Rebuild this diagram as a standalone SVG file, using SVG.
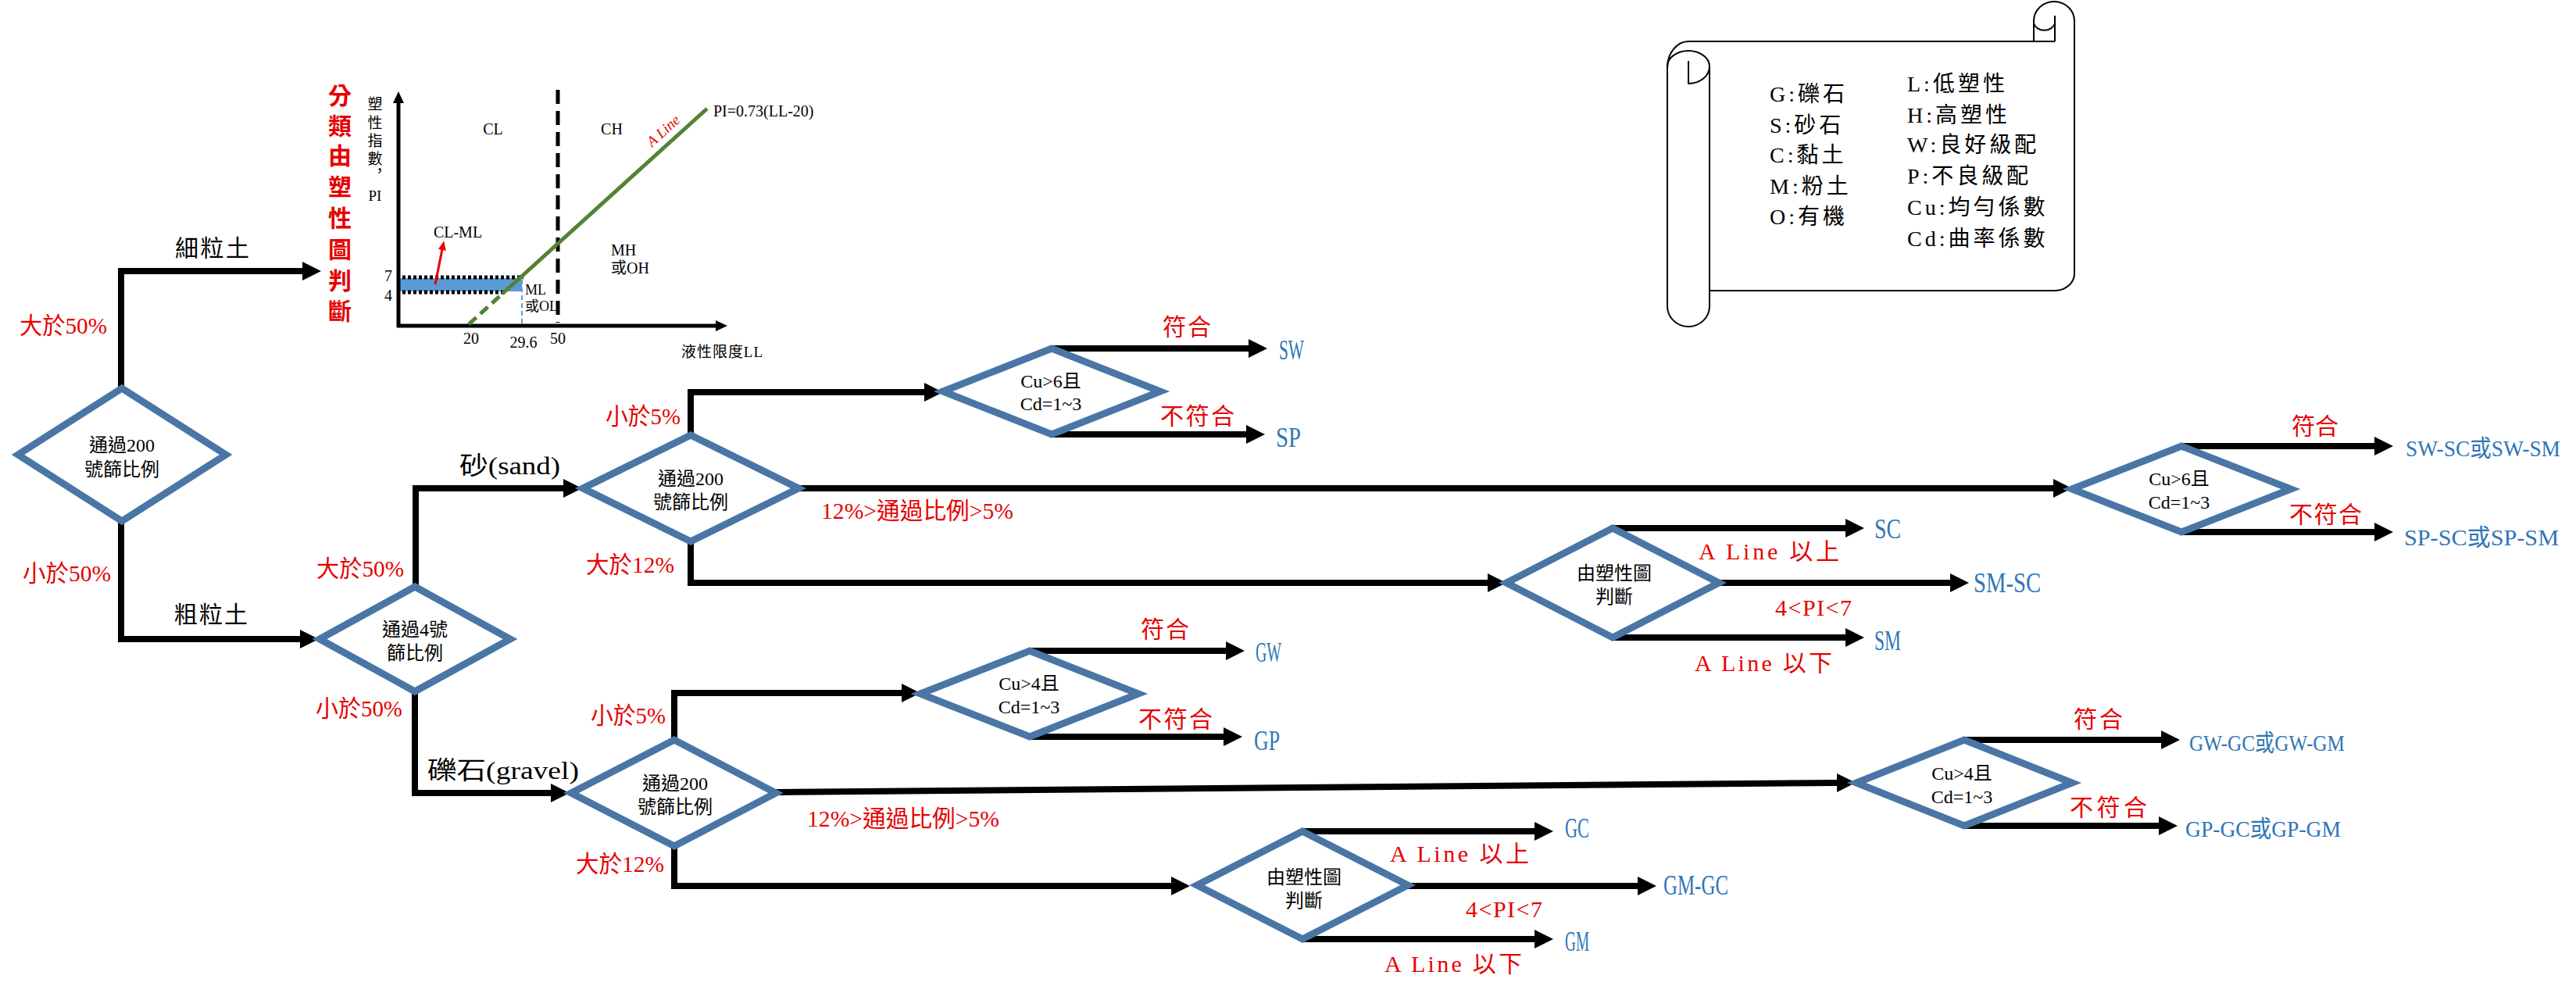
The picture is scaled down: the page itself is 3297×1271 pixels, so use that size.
<svg xmlns="http://www.w3.org/2000/svg" width="3297" height="1271" viewBox="0 0 3297 1271">
<style>
text { font-family: "Liberation Serif", "Noto Sans CJK TC", serif; }
.c { fill: none; stroke: #000; stroke-width: 8; stroke-linejoin: miter; marker-end: url(#ah); }
.d { fill: #fff; stroke: #4A76A6; stroke-width: 9; stroke-linejoin: miter; }
.dt { font-size: 24px; text-anchor: middle; fill: #000; }
.r { font-size: 30px; fill: #E60000; }
.b { font-size: 36px; fill: #2E75B6; }
.bl { font-size: 30px; fill: #2E75B6; }
.k { font-size: 30px; fill: #000; }
.ch { font-size: 20px; fill: #000; }
.sc { fill: none; stroke: #000; stroke-width: 2; }
.lg { font-size: 28px; fill: #000; letter-spacing: 4px; }
</style>
<defs>
<marker id="ah" viewBox="0 0 24 24" refX="2" refY="12" markerWidth="24" markerHeight="24" markerUnits="userSpaceOnUse" orient="auto">
<path d="M0,0 L24,12 L0,24 Z" fill="#000"/>
</marker>
<marker id="axa" viewBox="0 0 15 14" refX="1" refY="7" markerWidth="15" markerHeight="14" markerUnits="userSpaceOnUse" orient="auto">
<path d="M0,0 L15,7 L0,14 Z" fill="#000"/>
</marker>
<marker id="ra" viewBox="0 0 12 10" refX="1" refY="5" markerWidth="12" markerHeight="10" markerUnits="userSpaceOnUse" orient="auto">
<path d="M0,0 L12,5 L0,10 Z" fill="#E60000"/>
</marker>
</defs>
<rect width="3297" height="1271" fill="#fff"/>

<g id="connectors">
<path class="c" d="M155,497 V347 H389"/>
<path class="c" d="M155,668 V818 H386"/>
<path class="c" d="M532,751 V625 H723"/>
<path class="c" d="M531,885 V1015 H707"/>
<path class="c" d="M884,557 V502 H1185"/>
<path class="c" d="M1022,625 H2630"/>
<path class="c" d="M884,693 V746 H1906"/>
<path class="c" d="M1346,446 H1600"/>
<path class="c" d="M1346,556 H1597"/>
<path class="c" d="M2064,676 H2364"/>
<path class="c" d="M2200,746 H2498"/>
<path class="c" d="M2064,816 H2364"/>
<path class="c" d="M2792,571 H3041"/>
<path class="c" d="M2792,681 H3041"/>
<path class="c" d="M863,947 V887 H1156"/>
<path class="c" d="M993,1014 L2353,1002"/>
<path class="c" d="M863,1083 V1134 H1501"/>
<path class="c" d="M1318,833 H1571"/>
<path class="c" d="M1318,943 H1568"/>
<path class="c" d="M1667,1064 H1966"/>
<path class="c" d="M1802,1134 H2098"/>
<path class="c" d="M1667,1202 H1966"/>
<path class="c" d="M2514,947 H2768"/>
<path class="c" d="M2514,1057 H2765"/>

<text class="k" x="224" y="328" textLength="95">細粒土</text>
<text class="k" x="223" y="797" textLength="94">粗粒土</text>
<text class="k" x="588" y="607" textLength="129" lengthAdjust="spacingAndGlyphs" style="font-size:32px">砂(sand)</text>
<text class="k" x="547" y="997" textLength="194" lengthAdjust="spacingAndGlyphs" style="font-size:32px">礫石(gravel)</text>

<text class="r" x="25" y="427" textLength="112" lengthAdjust="spacingAndGlyphs">大於50%</text>
<text class="r" x="29" y="744" textLength="113" lengthAdjust="spacingAndGlyphs">小於50%</text>
<text class="r" x="405" y="738" textLength="112" lengthAdjust="spacingAndGlyphs">大於50%</text>
<text class="r" x="404" y="917" textLength="111" lengthAdjust="spacingAndGlyphs">小於50%</text>
<text class="r" x="775" y="543" textLength="96" lengthAdjust="spacingAndGlyphs">小於5%</text>
<text class="r" x="750" y="733" textLength="113" lengthAdjust="spacingAndGlyphs">大於12%</text>
<text class="r" x="1051" y="664" textLength="246" lengthAdjust="spacingAndGlyphs">12%&gt;通過比例&gt;5%</text>
<text class="r" x="1488" y="429" textLength="62">符合</text>
<text class="r" x="1485" y="543" textLength="95">不符合</text>
<text class="r" x="2174" y="716" textLength="180">A Line 以上</text>
<text class="r" x="2272" y="788" textLength="98">4&lt;PI&lt;7</text>
<text class="r" x="2169" y="859" textLength="176">A Line 以下</text>
<text class="r" x="2933" y="556" textLength="60">符合</text>
<text class="r" x="2930" y="669" textLength="93">不符合</text>
<text class="r" x="756" y="926" textLength="96" lengthAdjust="spacingAndGlyphs">小於5%</text>
<text class="r" x="1033" y="1058" textLength="246" lengthAdjust="spacingAndGlyphs">12%&gt;通過比例&gt;5%</text>
<text class="r" x="737" y="1116" textLength="113" lengthAdjust="spacingAndGlyphs">大於12%</text>
<text class="r" x="1460" y="816" textLength="62">符合</text>
<text class="r" x="1457" y="931" textLength="95">不符合</text>
<text class="r" x="1779" y="1103" textLength="178">A Line 以上</text>
<text class="r" x="1876" y="1174" textLength="98">4&lt;PI&lt;7</text>
<text class="r" x="1772" y="1244" textLength="176">A Line 以下</text>
<text class="r" x="2654" y="931" textLength="63">符合</text>
<text class="r" x="2649" y="1044" textLength="99">不符合</text>

<text class="b" x="1637" y="460" textLength="32" lengthAdjust="spacingAndGlyphs">SW</text>
<text class="b" x="1633" y="572" textLength="32" lengthAdjust="spacingAndGlyphs">SP</text>
<text class="b" x="2399" y="689" textLength="34" lengthAdjust="spacingAndGlyphs">SC</text>
<text class="b" x="2526" y="758" textLength="86" lengthAdjust="spacingAndGlyphs">SM-SC</text>
<text class="b" x="2399" y="832" textLength="34" lengthAdjust="spacingAndGlyphs">SM</text>
<text class="bl" x="3079" y="584" textLength="198" lengthAdjust="spacingAndGlyphs">SW-SC或SW-SM</text>
<text class="bl" x="3077" y="698" textLength="198" lengthAdjust="spacingAndGlyphs">SP-SC或SP-SM</text>
<text class="b" x="1607" y="847" textLength="33" lengthAdjust="spacingAndGlyphs">GW</text>
<text class="b" x="1605" y="960" textLength="33" lengthAdjust="spacingAndGlyphs">GP</text>
<text class="b" x="2003" y="1072" textLength="31" lengthAdjust="spacingAndGlyphs">GC</text>
<text class="b" x="2129" y="1145" textLength="83" lengthAdjust="spacingAndGlyphs">GM-GC</text>
<text class="b" x="2003" y="1217" textLength="31" lengthAdjust="spacingAndGlyphs">GM</text>
<text class="bl" x="2802" y="961" textLength="199" lengthAdjust="spacingAndGlyphs">GW-GC或GW-GM</text>
<text class="bl" x="2797" y="1071" textLength="199" lengthAdjust="spacingAndGlyphs">GP-GC或GP-GM</text>
</g>

<g id="d1-pass200">
<polygon class="d" points="23,582 156,497 289,582 156,667"/>
<text class="dt" x="156" y="578">通過200</text>
<text class="dt" x="156" y="609">號篩比例</text>
</g>
<g id="d2-pass4">
<polygon class="d" points="409,818 531,751 653,818 531,885"/>
<text class="dt" x="531" y="814">通過4號</text>
<text class="dt" x="531" y="844">篩比例</text>
</g>
<g id="d3-sand-pass200">
<polygon class="d" points="746,625 884,557 1022,625 884,693"/>
<text class="dt" x="884" y="621">通過200</text>
<text class="dt" x="884" y="651">號篩比例</text>
</g>
<g id="d4-sand-cu">
<polygon class="d" points="1207,501 1346,446 1485,501 1346,556"/>
<text class="dt" x="1345" y="496">Cu&gt;6且</text>
<text class="dt" x="1345" y="525">Cd=1~3</text>
</g>
<g id="d5-sand-plastic">
<polygon class="d" points="1928,746 2064,676 2200,746 2064,816"/>
<text class="dt" x="2066" y="742">由塑性圖</text>
<text class="dt" x="2066" y="772">判斷</text>
</g>
<g id="d6-sand-cu-dual">
<polygon class="d" points="2652,626 2792,571 2932,626 2792,681"/>
<text class="dt" x="2789" y="621">Cu&gt;6且</text>
<text class="dt" x="2789" y="651">Cd=1~3</text>
</g>
<g id="d7-gravel-pass200">
<polygon class="d" points="731,1015 863,947 993,1015 863,1083"/>
<text class="dt" x="864" y="1011">通過200</text>
<text class="dt" x="864" y="1041">號篩比例</text>
</g>
<g id="d8-gravel-cu">
<polygon class="d" points="1178,888 1318,833 1457,888 1318,943"/>
<text class="dt" x="1317" y="883">Cu&gt;4且</text>
<text class="dt" x="1317" y="913">Cd=1~3</text>
</g>
<g id="d9-gravel-plastic">
<polygon class="d" points="1532,1133 1667,1064 1802,1133 1667,1202"/>
<text class="dt" x="1669" y="1131">由塑性圖</text>
<text class="dt" x="1669" y="1161">判斷</text>
</g>
<g id="d10-gravel-cu-dual">
<polygon class="d" points="2376,1002 2514,947 2652,1002 2514,1057"/>
<text class="dt" x="2511" y="998">Cu&gt;4且</text>
<text class="dt" x="2511" y="1028">Cd=1~3</text>
</g>

<g id="plasticity-chart">
<g font-size="30" font-weight="bold" fill="#E60000" text-anchor="middle">
<text x="435" y="133">分</text>
<text x="435" y="172">類</text>
<text x="435" y="210">由</text>
<text x="435" y="250">塑</text>
<text x="435" y="290">性</text>
<text x="435" y="330">圖</text>
<text x="435" y="370">判</text>
<text x="435" y="409">斷</text>
</g>
<g font-size="19" fill="#000" text-anchor="middle">
<text x="480" y="140">塑</text>
<text x="480" y="164">性</text>
<text x="480" y="187">指</text>
<text x="480" y="210">數</text>
<text x="486" y="226">，</text>
<text x="480" y="257">PI</text>
</g>
<rect x="510" y="356" width="158" height="17" fill="#5B9BD5"/>
<line x1="508" y1="355" x2="670" y2="355" stroke="#000" stroke-width="5" stroke-dasharray="4 3"/>
<line x1="508" y1="374" x2="646" y2="374" stroke="#000" stroke-width="5" stroke-dasharray="4 3"/>
<line x1="668" y1="358" x2="668" y2="415" stroke="#5B9BD5" stroke-width="2" stroke-dasharray="6 4"/>
<line x1="714" y1="115" x2="714" y2="413" stroke="#000" stroke-width="5" stroke-dasharray="18 9"/>
<line x1="510" y1="419" x2="510" y2="131" stroke="#000" stroke-width="5" marker-end="url(#axa)"/>
<line x1="508" y1="417" x2="917" y2="417" stroke="#000" stroke-width="5" marker-end="url(#axa)"/>
<line x1="600" y1="415" x2="643" y2="376" stroke="#548235" stroke-width="5" stroke-dasharray="13 7"/>
<line x1="643" y1="376" x2="905" y2="139" stroke="#548235" stroke-width="5"/>
<line x1="557" y1="364" x2="566" y2="319" stroke="#E60000" stroke-width="3" marker-end="url(#ra)"/>
<text x="853" y="172" transform="rotate(-42 853 172)" font-size="19" font-style="italic" fill="#E60000" text-anchor="middle">A Line</text>
<text class="ch" x="913" y="149">PI=0.73(LL-20)</text>
<text class="ch" x="631" y="172" text-anchor="middle">CL</text>
<text class="ch" x="783" y="172" text-anchor="middle">CH</text>
<text class="ch" x="586" y="304" text-anchor="middle">CL-ML</text>
<text class="ch" x="782" y="327">MH</text>
<text class="ch" x="782" y="350">或OH</text>
<text class="ch" x="672" y="377" style="font-size:18px">ML</text>
<text class="ch" x="672" y="398" style="font-size:18px">或OL</text>
<text class="ch" x="497" y="360" text-anchor="middle">7</text>
<text class="ch" x="497" y="385" text-anchor="middle">4</text>
<text class="ch" x="603" y="440" text-anchor="middle">20</text>
<text class="ch" x="670" y="445" text-anchor="middle">29.6</text>
<text class="ch" x="714" y="440" text-anchor="middle">50</text>
<text class="ch" x="872" y="457" textLength="104" style="font-size:19px">液性限度LL</text>
</g>

<g id="legend-scroll">
<path class="sc" d="M2134,87 A27,34 0 0 1 2161,53 H2630"/>
<path class="sc" d="M2603,53 V27 A26,25 0 0 1 2655,27 V350 A25,22 0 0 1 2630,372 H2188"/>
<path class="sc" d="M2603,30 A14,12 0 0 0 2630,30 V53"/>
<path class="sc" d="M2630,20 V53"/>
<path class="sc" d="M2134,85 A27,20 0 0 1 2188,85 V392 A27,26 0 0 1 2134,392 Z"/>
<path class="sc" d="M2161,78 V107 A27,22 0 0 0 2188,85"/>
<text class="lg" x="2265" y="130">G:礫石</text>
<text class="lg" x="2265" y="170">S:砂石</text>
<text class="lg" x="2265" y="208">C:黏土</text>
<text class="lg" x="2265" y="248">M:粉土</text>
<text class="lg" x="2265" y="287">O:有機</text>
<text class="lg" x="2441" y="117">L:低塑性</text>
<text class="lg" x="2441" y="157">H:高塑性</text>
<text class="lg" x="2441" y="195">W:良好級配</text>
<text class="lg" x="2441" y="235">P:不良級配</text>
<text class="lg" x="2441" y="275">Cu:均勻係數</text>
<text class="lg" x="2441" y="315">Cd:曲率係數</text>
</g>
</svg>
